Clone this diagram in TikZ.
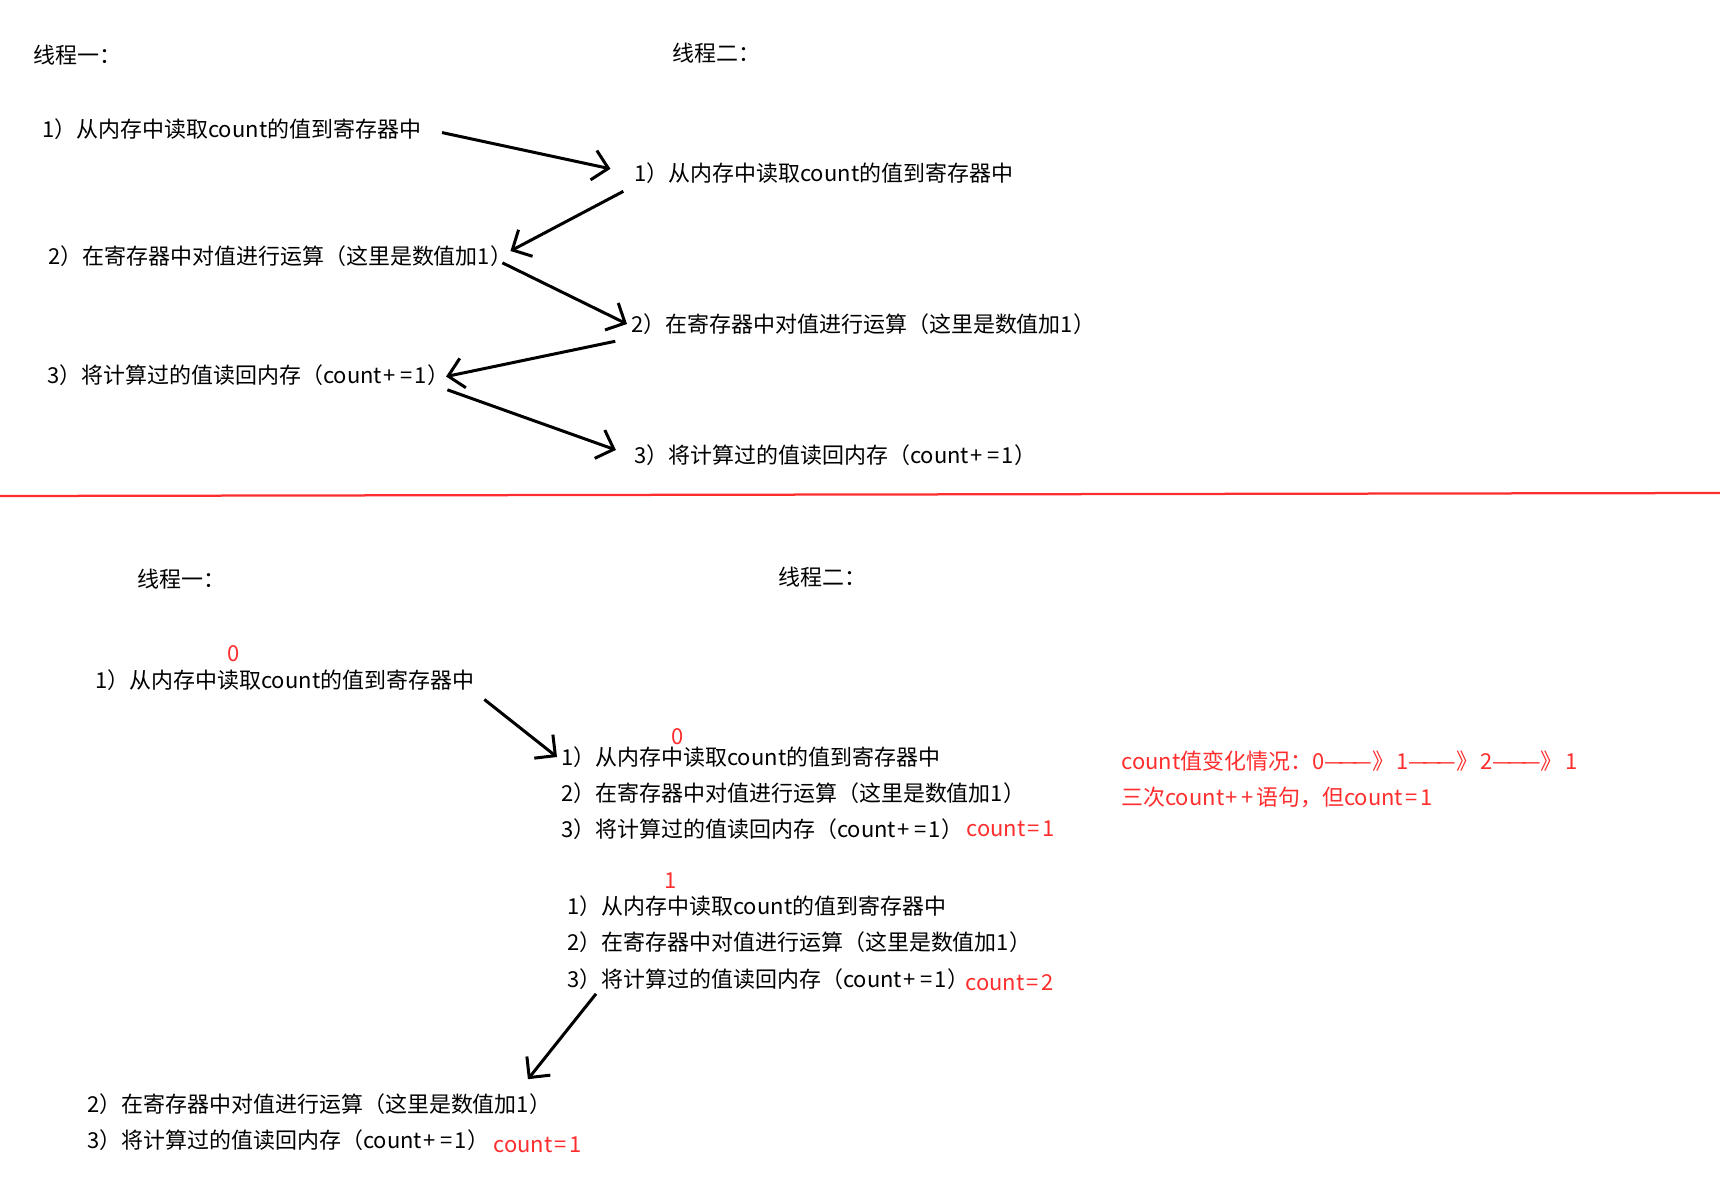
\documentclass[tikz,border=0pt]{standalone}
\usepackage{fontspec}
\setmainfont{Noto Sans CJK SC}
\usetikzlibrary{arrows.meta}
\definecolor{notered}{RGB}{255,45,45}
\newcommand\readstep{1）从内存中读取count的值到寄存器中}
\newcommand\addstep{2）在寄存器中对值进行运算（这里是数值加1）}
\newcommand\writestep{3）将计算过的值读回内存（count\kern0.05em+\kern0.25em=\kern0.08em1）}
\newcommand\cnteq[1]{count\kern0.12em=\kern0.12em#1}
\newcommand\goesto{—\kern-0.25em—\kern-0.25em—》\kern0.1em}

\begin{document}
\begin{tikzpicture}[x=0.2mm,y=-0.2mm,>={Straight Barb[length=3mm,width=6mm]},
  txt/.style={anchor=west,inner sep=0.8mm,font=\fontsize{12.5}{15}\selectfont},
  redtxt/.style={txt,text=notered},
  flow/.style={->,line width=0.6mm,shorten <=1.5mm,shorten >=1mm}]
  \useasboundingbox (0,0) rectangle (1720,1176);
  % upper half
  \node[txt] (h1) at (29,55) {线程一：};
  \node[txt] (h2) at (668,53) {线程二：};
  \node[txt] (a1) at (38,129) {\readstep};
  \node[txt] (b1) at (630,173) {\readstep};
  \node[txt] (a2) at (44,256) {\addstep};
  \node[txt] (b2) at (627,324) {\addstep};
  \node[txt] (a3) at (43,375) {\writestep};
  \node[txt] (b3) at (630,455) {\writestep};
  \draw[flow,shorten <=3.4mm,shorten >=4mm] (a1.east) -- (b1.west);
  \draw[flow,shorten >=0mm] (b1.south west) -- ([xshift=-1.2mm,yshift=1mm]a2.east);
  \draw[flow,shorten <=0mm,shorten >=0mm] ([xshift=-2.8mm,yshift=1.6mm]a2.south east) -- (b2.west);
  \draw[flow,shorten <=2.4mm,shorten >=-1.5mm] (b2.south west) -- (a3.east);
  \draw[flow,shorten <=0mm,shorten >=3mm] ([xshift=-1.2mm]a3.south east) -- (b3.west);
  \draw[notered,line width=0.45mm] (0,496) -- (1720,493);
  % lower half
  \node[txt] (h3) at (133,579) {线程一：};
  \node[txt] (h4) at (774,577) {线程二：};
  \node[txt] (c1) at (91,680) {\readstep};
  \node[redtxt,anchor=center] (v0) at (234,654) {0};
  \node[txt] (d1) at (557,757) {\readstep};
  \node[redtxt,anchor=center] (v1) at (678,737) {0};
  \node[txt] (d2) at (557,793) {\addstep};
  \node[txt] (d3) at (557,829) {\writestep};
  \node[redtxt] (r1) at (962,829) {\cnteq{1}};
  \node[redtxt,anchor=center] (v2) at (671,881) {1};
  \node[txt] (e1) at (563,906) {\readstep};
  \node[txt] (e2) at (563,942) {\addstep};
  \node[txt] (e3) at (563,979) {\writestep};
  \node[redtxt] (r2) at (961,983) {\cnteq{2}};
  \node[txt] (f2) at (83,1104) {\addstep};
  \node[txt] (f3) at (83,1140) {\writestep};
  \node[redtxt] (r3) at (489,1145) {\cnteq{1}};
  \node[redtxt] (s1) at (1117,761) {count值变化情况：0\goesto 1\goesto 2\goesto 1};
  \node[redtxt] (s2) at (1117,797) {三次count\kern0.05em+\kern0.2em+\kern0.1em语句，但\cnteq{1}};
  \draw[flow,shorten >=0mm] (c1.south east) -- (d1.west);
  \draw[flow,shorten <=0mm,shorten >=0mm] ([xshift=6.6mm]e3.south west) -- ([xshift=-5.5mm,yshift=2mm]f2.north east);
\end{tikzpicture}
\end{document}
